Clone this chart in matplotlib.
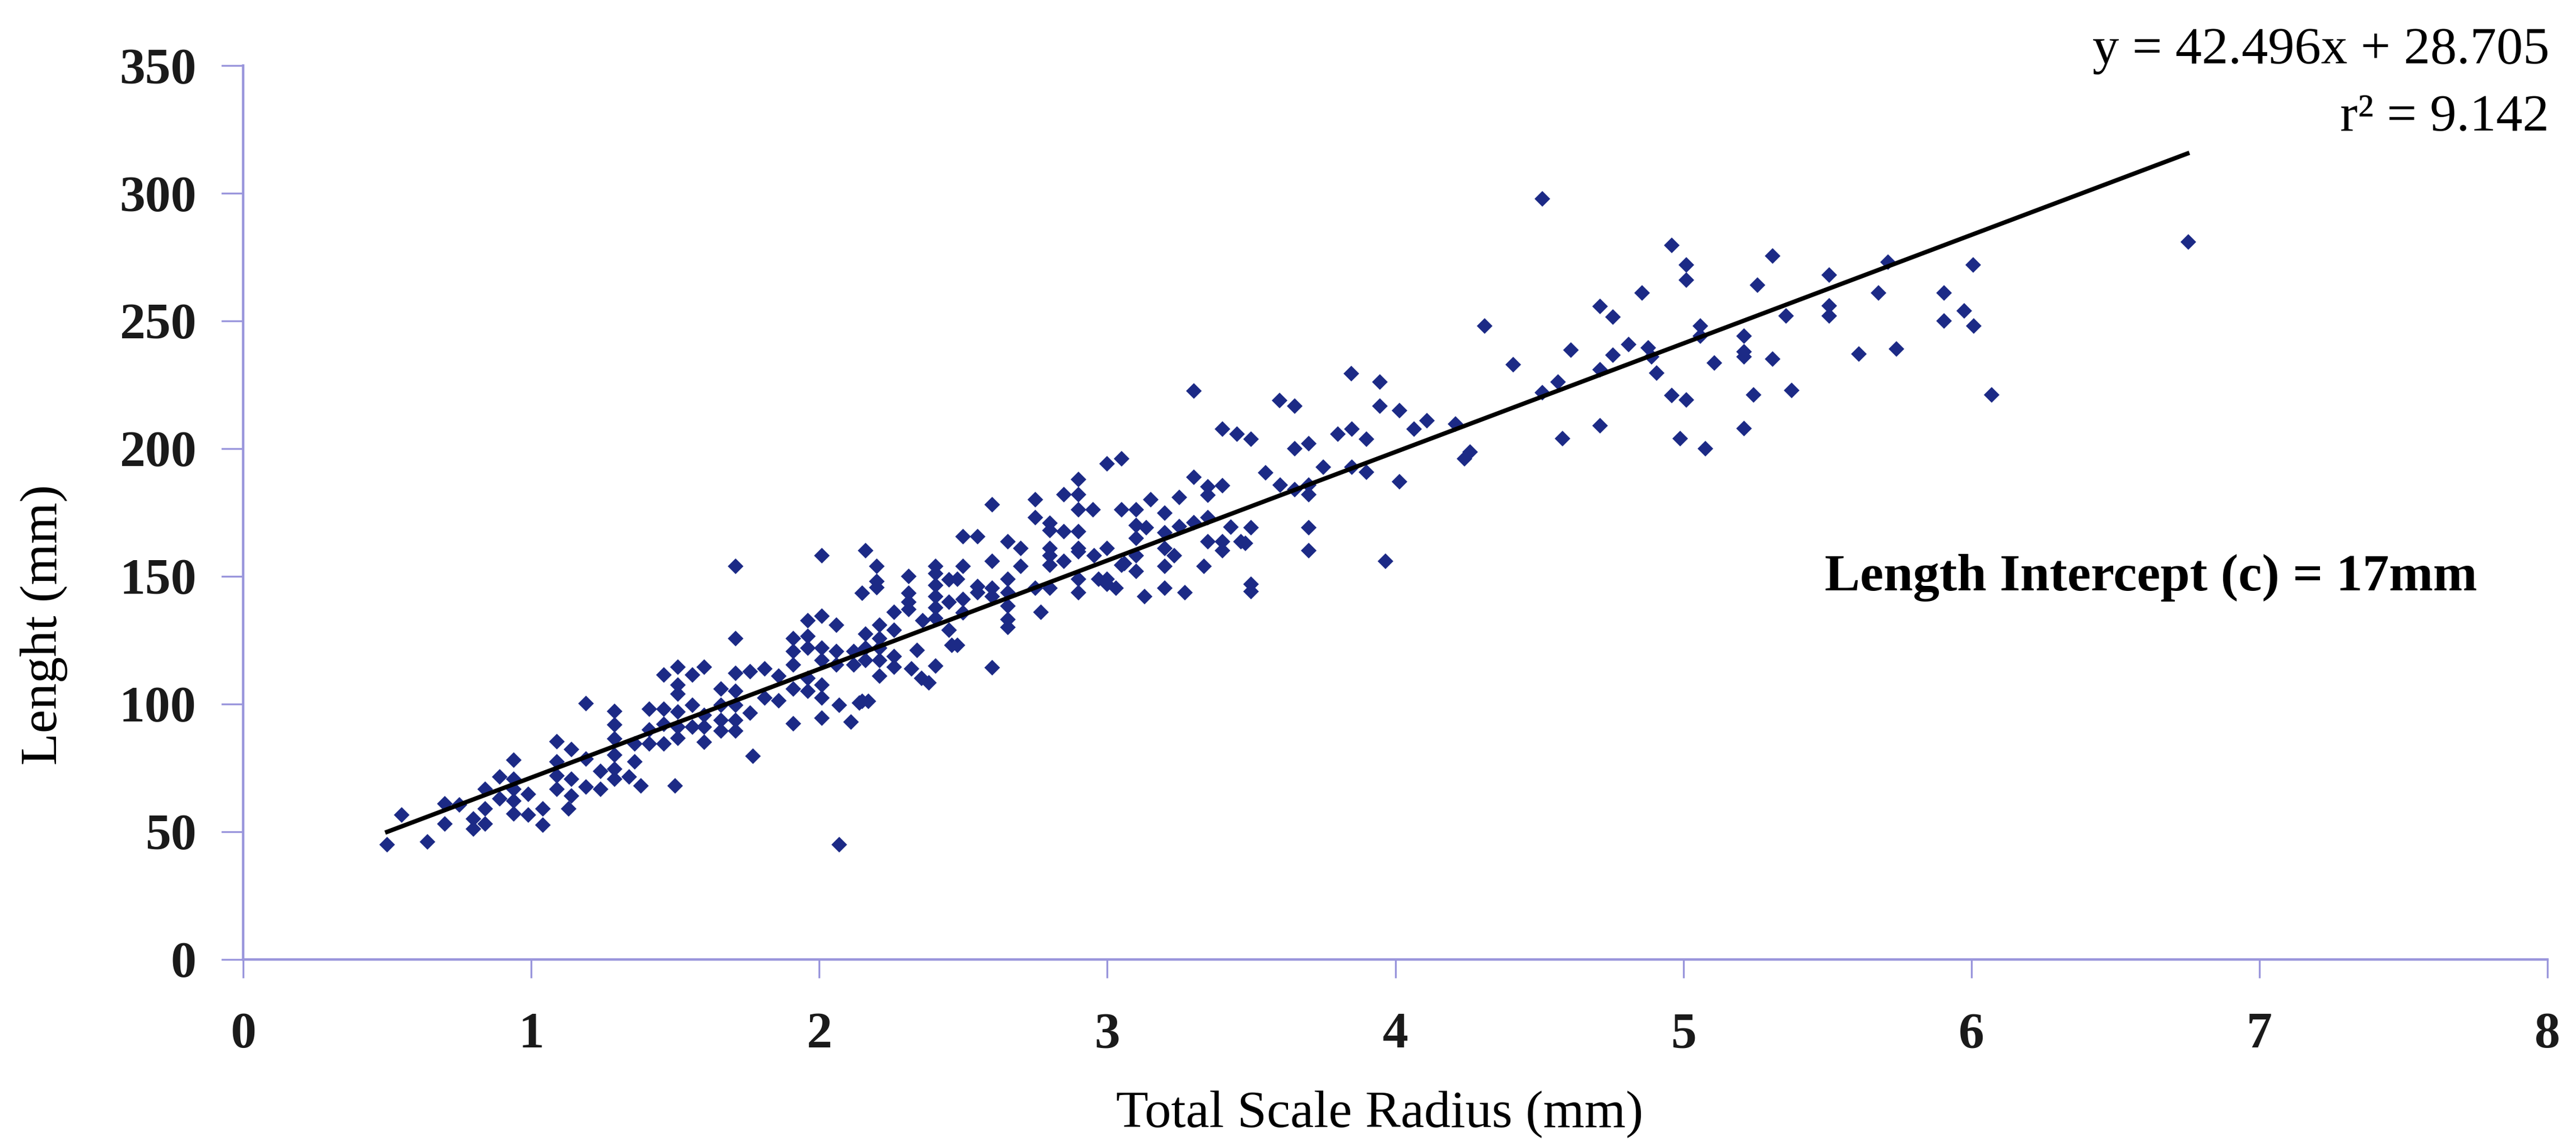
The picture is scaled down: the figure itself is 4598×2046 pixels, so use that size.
import matplotlib
matplotlib.use("Agg")
import matplotlib.pyplot as plt
import numpy as np

plt.rcParams['font.family'] = ['Liberation Serif', 'DejaVu Serif']

# scale radius (mm) vs fish length (mm)
radius = [
    0.50, 0.55, 0.64, 0.70, 0.70, 0.75, 0.80, 0.80, 0.84, 0.84, 0.84, 0.89, 0.89,
    0.94, 0.94, 0.94, 0.94, 0.94, 0.99, 0.99, 1.04, 1.04, 1.09, 1.09, 1.09, 1.09,
    1.13, 1.14, 1.14, 1.14, 1.19, 1.19, 1.19, 1.24, 1.24, 1.29, 1.29, 1.29, 1.29,
    1.29, 1.29, 1.34, 1.38, 1.36, 1.36, 1.41, 1.41, 1.41, 1.46, 1.46, 1.46, 1.46,
    # 1.5 - 2.5
    1.71, 2.01, 2.16, 2.20, 2.20, 2.20, 2.15, 2.31, 2.31, 2.31, 2.31, 2.405, 2.405,
    2.405, 2.405, 2.405, 2.405, 2.45, 2.45, 2.45, 2.46, 2.36, 2.34, 2.405, 2.355,
    2.32, 2.38, 2.26, 2.26, 2.26, 2.26, 2.21, 2.21, 2.21, 2.21, 2.21, 2.16, 2.16,
    2.16, 2.12, 2.12, 2.15, 2.14, 2.17, 2.11, 2.07, 2.06, 2.06, 2.06, 2.01, 2.01,
    2.01, 2.01, 2.01, 2.01, 1.96, 1.96, 1.96, 1.96, 1.96, 1.91, 1.91, 1.91, 1.91,
    1.91, 1.86, 1.86, 1.81, 1.81, 1.76, 1.76, 1.77, 1.71, 1.71, 1.71, 1.71, 1.71,
    1.71, 1.66, 1.66, 1.66, 1.66, 1.60, 1.60, 1.60, 1.60, 1.56, 1.56, 1.56, 1.51,
    1.51, 1.51, 1.51, 1.51, 1.51, 1.50, 2.07,
    # 2.5 - 3.5
    3.30, 3.40, 3.45, 3.05, 3.00, 2.90, 2.85, 2.90, 2.90, 2.95, 2.75, 2.60, 2.75,
    2.80, 2.80, 2.85, 2.90, 2.50, 2.55, 2.655, 2.70, 2.80, 2.90, 2.80, 2.90, 2.60,
    2.50, 2.70, 2.80, 2.85, 2.955, 3.00, 3.05, 3.10, 3.10, 3.10, 3.10, 3.10, 3.05,
    3.135, 3.15, 3.20, 3.25, 3.20, 3.20, 3.20, 3.233, 3.25, 3.30, 3.30, 3.35, 3.35,
    3.40, 3.35, 3.35, 3.40, 3.40, 3.43, 3.465, 3.335, 3.27, 3.20, 3.13, 3.00, 2.97,
    3.03, 3.00, 3.06, 2.90, 2.90, 2.80, 2.75, 2.77, 2.655, 2.655, 2.655, 2.655,
    2.655, 2.60, 2.60, 2.55, 2.55, 2.50, 2.50, 2.48, 2.48, 2.60,
    # 3.5 - 5
    4.51, 4.96, 4.857, 4.71, 4.755, 4.31, 4.61, 4.81, 4.755, 4.878, 4.89, 4.71,
    4.41, 4.907, 4.565, 4.51, 4.96, 4.71, 4.58, 4.21, 4.26, 4.24, 4.11, 4.066,
    4.015, 3.946, 3.946, 3.847, 3.85, 3.80, 3.90, 3.90, 3.85, 3.75, 4.015, 3.966,
    3.598, 3.65, 3.65, 3.70, 3.50, 3.55, 3.60, 3.65, 3.70, 3.70, 3.70, 3.70, 3.50,
    3.48, 3.50, 3.50,
    # 5 - 7
    6.753, 6.007, 6.07, 5.905, 5.905, 5.976, 6.009, 5.71, 5.677, 5.74, 5.61, 5.506,
    5.506, 5.506, 5.356, 5.31, 5.258, 5.377, 5.243, 5.21, 5.21, 5.21, 5.21, 5.31,
    5.108, 5.06, 5.06, 5.01, 5.01, 5.01, 4.99, 5.077,
]

length = [
    45, 56.5, 46, 61, 53, 60.5, 55, 51, 59, 53, 66.6, 71.4, 63,
    78, 70.5, 66.6, 62, 57, 64.6, 56.5, 59, 52.6, 85.4, 77.5, 72, 66.6,
    59, 82.3, 70.5, 64, 100.3, 78.4, 67.5, 73.6, 66.6, 97.2, 91.8, 86.3, 80,
    74.5, 70.5, 71.4, 68, 77.5, 84.5, 98, 90, 84.5, 111.3, 98, 84.5, 92,
    # 1.5 - 2.5
    154, 158, 160, 154, 148, 145.6, 143.5, 150, 143.5, 140, 137, 154, 151,
    146.5, 142, 137.7, 133.6, 148.7, 140, 129, 123, 132.7, 121, 115, 110,
    113.7, 108.4, 136, 129, 118.7, 114.5, 131, 125.7, 122, 117, 111, 127.5, 122,
    117, 120.5, 115.4, 101, 100.5, 101, 92.9, 99.6, 120.5, 115.4, 131, 134.5, 122,
    117, 107.5, 102.3, 94.6, 132.7, 126.6, 122, 110, 105, 125.7, 120.5, 115.4, 105.8,
    92.4, 111, 101.4, 113.7, 102.3, 112.8, 96.4, 79.5, 125.7, 112, 105, 99.6, 93.7,
    89.4, 105.8, 99.6, 93.7, 89.4, 114.5, 95.5, 91, 85, 111.5, 99.6, 91, 114.5,
    107.5, 104, 97, 91, 86.7, 68, 45,
    # 2.5 - 3.5
    222.5, 207.6, 205.6, 196, 194, 188, 182, 182, 176, 176, 180, 178, 173,
    170.8, 168, 167.5, 167.5, 165.6, 165.6, 163.6, 161, 161, 161, 158, 159.7, 156,
    154, 154, 154.4, 156, 158, 161, 154.4, 158, 152, 165, 170, 176, 176,
    169, 180, 174.8, 181, 167, 161, 154, 158, 169.6, 171, 188.8, 185, 181.8,
    185.5, 173, 163.6, 163.6, 160, 169.3, 163.6, 154, 143.7, 145.4, 142, 149, 149,
    145.4, 147, 155, 149, 143.7, 145.4, 145.4, 136, 149, 143.7, 138.4, 133,
    130, 145.4, 142, 146, 143.7, 141, 135.8, 149, 123, 114.3,
    # 3.5 - 5
    297.9, 279.5, 261, 255.6, 251.6, 248, 238.7, 240.7, 236.7, 239.4, 236, 231,
    233, 229.5, 226, 222, 220.8, 209, 204, 209.6, 198.6, 196, 211, 207.6,
    214.8, 226, 216.6, 229.3, 207.6, 205.6, 203.7, 190.8, 192.7, 192.7, 187, 156,
    218.8, 216.6, 200, 202, 203.7, 190.5, 185.7, 184, 185.7, 182, 169, 160, 169,
    163, 147, 144,
    # 5 - 7
    281, 272, 221, 261, 250, 254, 248, 273, 261, 239, 237, 268,
    256, 252, 252, 275.5, 264, 222.7, 221, 207.8, 244, 238, 236, 235,
    233.5, 248, 244, 272, 266, 219, 204, 200,
]

slope = 42.496
intercept = 28.705
fit_x = [0.5, 6.75]

fig = plt.figure(figsize=(22.99, 10.23), dpi=200)
ax = fig.add_axes([0.0944, 0.1628, 0.8945, 0.78])

ax.plot(radius, length, 'D', color='#1c2a86', markersize=7, markeredgewidth=0, zorder=2)
fx = np.array(fit_x)
ax.plot(fx, slope * fx + intercept, color='black', lw=2.8, zorder=3)

ax.set_xlim(0, 8)
ax.set_ylim(0, 350)
ax.set_xticks(range(0, 9))
ax.set_yticks(range(0, 351, 50))

spine_col = '#9a96dc'
for s in ['top', 'right']:
    ax.spines[s].set_visible(False)
for s in ['left', 'bottom']:
    ax.spines[s].set_color(spine_col)
    ax.spines[s].set_linewidth(1.6)
ax.tick_params(axis='both', colors=spine_col, direction='out', width=1.2,
               labelsize=33, labelcolor='#1a1a1a')
ax.tick_params(axis='y', length=14, pad=16)
ax.tick_params(axis='x', length=12, pad=22)
for lab in ax.get_xticklabels() + ax.get_yticklabels():
    lab.set_fontweight('bold')

fig.text(0.5355, 0.028, 'Total Scale Radius (mm)', ha='center', va='center', fontsize=34)
fig.text(0.017, 0.455, 'Lenght (mm)', ha='center', va='center', rotation=90, fontsize=34)

fig.text(0.9896, 0.956, 'y = 42.496x + 28.705', ha='right', va='center', fontsize=34)
fig.text(0.9896, 0.897, 'r² = 9.142', ha='right', va='center', fontsize=34)
ax.text(5.49, 149.5, 'Length Intercept (c) = 17mm', ha='left', va='center',
        fontsize=34, fontweight='bold')

fig.savefig('out.png', dpi=200)
